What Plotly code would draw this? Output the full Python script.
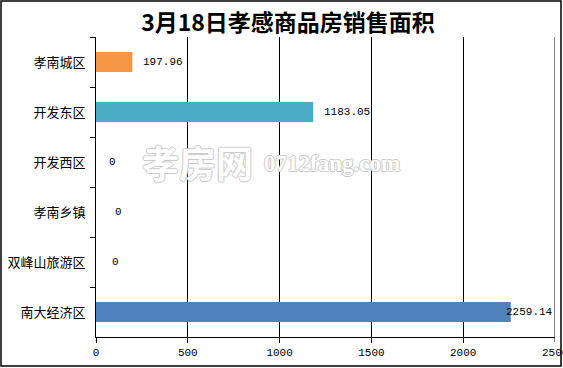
import plotly.graph_objects as go

categories = ["孝南城区", "开发东区", "开发西区", "孝南乡镇", "双峰山旅游区", "南大经济区"]
values = [197.96, 1183.05, 0, 0, 0, 2259.14]
labels = ["197.96", "1183.05", "0", "0", "0", "2259.14"]
colors = ["#F79646", "#4BACC6", "#4F81BD", "#4F81BD", "#4F81BD", "#4F81BD"]
x_ticks = [0, 500, 1000, 1500, 2000, 2500]
title_text = "3月18日孝感商品房销售面积"

CJK = "SimSun, 'Noto Sans CJK SC', sans-serif"
NUM = "'Liberation Mono', 'DejaVu Sans Mono', 'Noto Sans CJK SC', monospace"

W, H = 563, 368
ML, MR, MT, MB = 96, 8, 37, 31
PW, PH = W - ML - MR, H - MT - MB

fig = go.Figure()
fig.add_trace(go.Bar(
    y=categories, x=values, orientation="h",
    marker=dict(color=colors, line=dict(width=0)),
    hoverinfo="skip",
))

# data labels (offsets mimic the reference placement)
label_shift = [9, 9, 11, 17, 14, -7]
for c, v, t, s in zip(categories, values, labels, label_shift):
    fig.add_annotation(x=v, y=c, text=t, showarrow=False, xanchor="left",
                       xshift=s, font=dict(family=NUM, size=11, color="#000"))

# last x tick label (clipped by the chart edge, as in the reference)
fig.add_annotation(x=x_ticks[-1], xref="x", yref="paper", y=0, yshift=-8,
                   xanchor="center", yanchor="top", text=str(x_ticks[-1]), showarrow=False,
                   font=dict(family=NUM, size=11, color="#000"))

# watermark
outline = "1px 0 0 #cacaca, -1px 0 0 #cacaca, 0 1px 0 #cacaca, 0 -1px 0 #cacaca"
fig.add_annotation(xref="paper", yref="paper", x=(140 - ML) / PW, y=(H - MB - 162) / PH,
                   xanchor="left", yanchor="middle",
                   text="<b>孝房网</b>", showarrow=False,
                   font=dict(family="'Noto Sans CJK SC'", size=37, color="white", shadow=outline))
fig.add_annotation(xref="paper", yref="paper", x=(262 - ML) / PW, y=(H - MB - 163) / PH,
                   xanchor="left", yanchor="middle",
                   text="<b>0712fang.com</b>", showarrow=False,
                   font=dict(family="'Liberation Serif', serif", size=23, color="white", shadow=outline))

# outer frame
fig.add_shape(type="rect", xref="paper", yref="paper",
              x0=(1 - ML) / PW, x1=(561 - ML) / PW,
              y0=(H - MB - 366) / PH, y1=(H - MB - 1) / PH,
              line=dict(color="#000", width=1.5), fillcolor="rgba(0,0,0,0)")

fig.update_layout(
    width=W, height=H,
    margin=dict(l=ML, r=MR, t=MT, b=MB, autoexpand=False),
    paper_bgcolor="white", plot_bgcolor="white",
    showlegend=False,
    bargap=0.6,
    title=dict(text="<b>" + title_text + "</b>", x=288 / W, xanchor="center", y=1 - 23 / H,
               yanchor="middle",
               font=dict(family="'Noto Sans CJK SC'", size=23, color="#000")),
    xaxis=dict(range=[0, 2500], tickvals=x_ticks[:-1], ticktext=[str(v) for v in x_ticks[:-1]],
               showgrid=True, gridcolor="#000", gridwidth=1,
               showline=True, linecolor="#000", linewidth=1,
               ticks="outside", ticklen=5, tickcolor="#000", automargin=False,
               tickfont=dict(family=NUM, size=11, color="#000"), zeroline=False, fixedrange=True),
    yaxis=dict(autorange="reversed", showline=True, linecolor="#000", linewidth=1,
               ticks="outside", ticklen=5, tickcolor="#000", tickson="boundaries",
               showgrid=False, tickfont=dict(family=CJK, size=13, color="#000"),
               ticklabelstandoff=7, automargin=False, fixedrange=True),
    shapes=[],
)
# tick mark and gridline at 2500 on the right edge
fig.add_shape(type="line", xref="x", yref="paper", x0=x_ticks[-1], x1=x_ticks[-1],
              y0=0, y1=1, line=dict(color="#000", width=1))
fig.add_shape(type="line", xref="x", yref="paper", x0=x_ticks[-1], x1=x_ticks[-1],
              y0=0, y1=-5 / PH, line=dict(color="#000", width=1))

fig.write_html("out.html", config={"displayModeBar": False},
               post_script="document.body.style.margin='0';document.body.style.overflow='hidden';")
